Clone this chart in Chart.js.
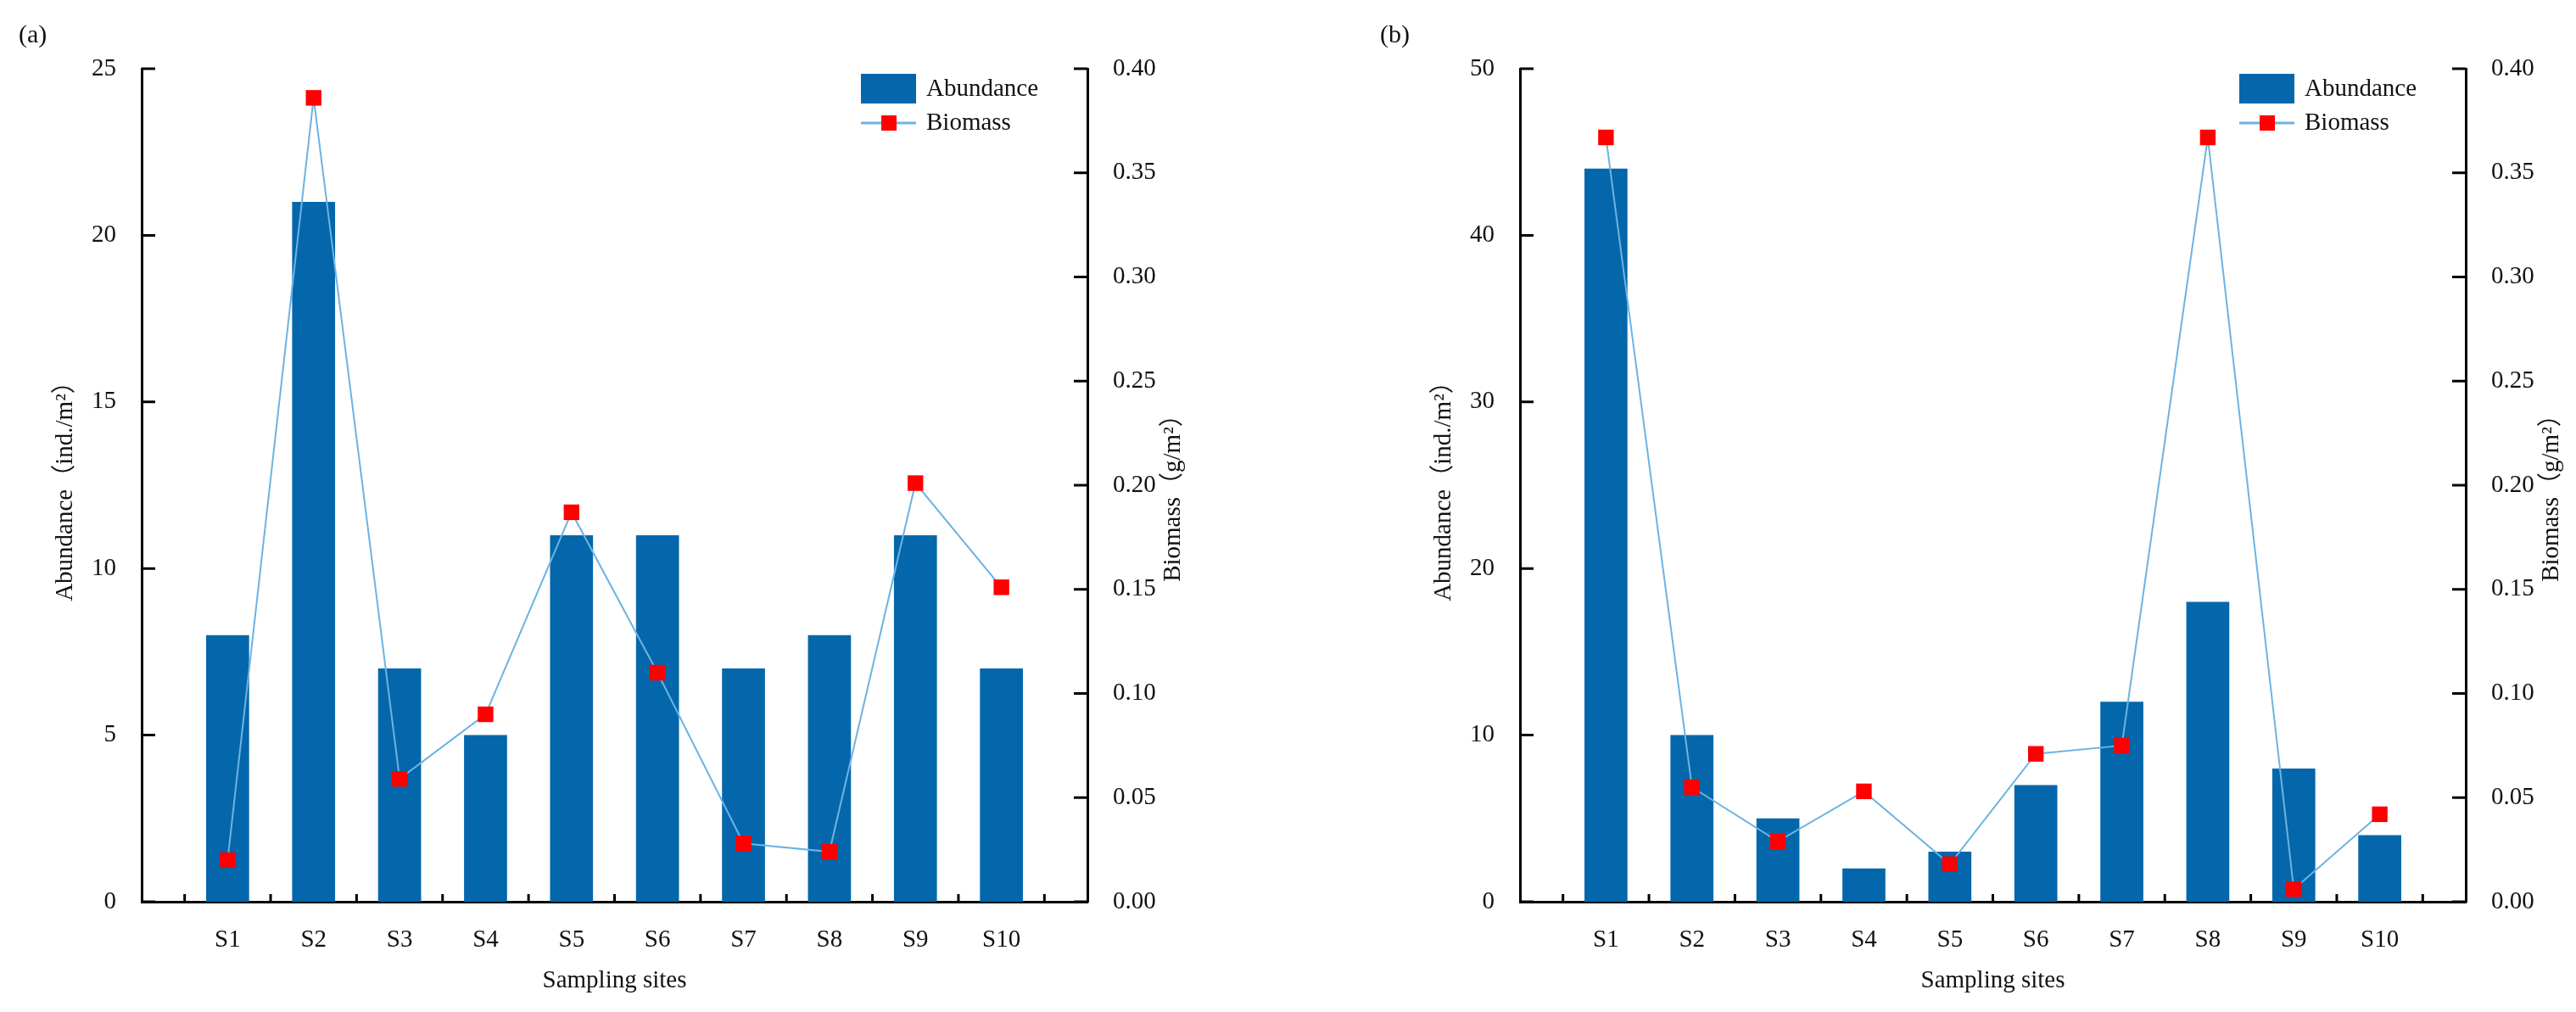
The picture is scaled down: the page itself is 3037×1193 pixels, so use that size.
<!DOCTYPE html>
<html>
<head>
<meta charset="utf-8">
<script src="https://cdn.jsdelivr.net/npm/chart.js@4.4.1/dist/chart.umd.min.js"></script>
<style>
  html, body { margin: 0; padding: 0; background: #fff; }
  .panel { position: absolute; top: 0; width: 1412px; height: 1193px; }
</style>
</head>
<body>
<div class="panel" style="left:0"><canvas id="chartA"></canvas></div>
<div class="panel" style="left:1625px"><canvas id="chartB"></canvas></div>
<script>
// sampling sites
const sites = ["S1", "S2", "S3", "S4", "S5", "S6", "S7", "S8", "S9", "S10"];

// panel (a)
const abundanceA = [8, 21, 7, 5, 11, 11, 7, 8, 11, 7];
const biomassA = [0.020, 0.386, 0.059, 0.090, 0.187, 0.110, 0.028, 0.024, 0.201, 0.151];

// panel (b)
const abundanceB = [44, 10, 5, 2, 3, 7, 12, 18, 8, 4];
const biomassB = [0.367, 0.055, 0.029, 0.053, 0.018, 0.071, 0.075, 0.367, 0.006, 0.042];

const FONT = "'Liberation Serif', 'Times New Roman', 'Noto Sans CJK SC', serif";
const BAR_COLOR = "#0467AB";
const LINE_COLOR = "#6DB3E2";
const MARK_COLOR = "#FF0000";

Chart.defaults.font.family = FONT;
Chart.defaults.font.size = 29;
Chart.defaults.color = "#111";

// inward ticks, right-hand title, legend and panel letter
const decor = {
  id: "decor",
  afterDraw(chart, args, opts) {
    const { ctx, chartArea: area, scales } = chart;
    ctx.save();
    ctx.strokeStyle = "#000";
    ctx.lineWidth = 3;
    ctx.beginPath();
    scales.y.ticks.forEach(t => {
      const py = scales.y.getPixelForValue(t.value);
      ctx.moveTo(area.left, py);
      ctx.lineTo(area.left + 16, py);
    });
    scales.y1.ticks.forEach(t => {
      const py = scales.y1.getPixelForValue(t.value);
      ctx.moveTo(area.right, py);
      ctx.lineTo(area.right - 16, py);
    });
    for (let i = 0; i < scales.x.ticks.length - 1; i++) {
      const px = (scales.x.getPixelForTick(i) + scales.x.getPixelForTick(i + 1)) / 2;
      ctx.moveTo(px, area.bottom);
      ctx.lineTo(px, area.bottom - 9);
    }
    ctx.stroke();

    ctx.fillStyle = "#111";
    ctx.font = "29px " + FONT;

    // right axis title, reading bottom to top
    ctx.save();
    ctx.translate(scales.y1.right - 29, (area.top + area.bottom) / 2 + 8);
    ctx.rotate(-Math.PI / 2);
    ctx.textAlign = "center";
    ctx.textBaseline = "middle";
    ctx.fillText(chart.options.scales.y1.title.text, 0, 0);
    ctx.restore();

    // legend
    const bars = chart.data.datasets[1];
    const line = chart.data.datasets[0];
    const lx = area.right - 267;
    const ly = area.top + 6;
    ctx.fillStyle = bars.backgroundColor;
    ctx.fillRect(lx, ly, 65, 35);
    ctx.strokeStyle = line.borderColor;
    ctx.lineWidth = 3;
    ctx.beginPath();
    ctx.moveTo(lx, ly + 58);
    ctx.lineTo(lx + 65, ly + 58);
    ctx.stroke();
    ctx.fillStyle = line.pointBackgroundColor;
    ctx.fillRect(lx + 24, ly + 49, 18, 18);
    ctx.fillStyle = "#111";
    ctx.textAlign = "left";
    ctx.textBaseline = "middle";
    ctx.fillText(bars.label, lx + 77, ly + 18);
    ctx.fillText(line.label, lx + 77, ly + 58);

    // panel letter
    ctx.font = "30px " + FONT;
    ctx.fillText(opts.letter, opts.letterX, 42);
    ctx.restore();
  }
};

function makeChart(id, letter, letterX, abundance, biomass, abMax, abStep) {
  const labels = ["", ...sites, ""];
  return new Chart(document.getElementById(id), {
    type: "bar",
    data: {
      labels: labels,
      datasets: [
        {
          type: "line",
          label: "Biomass",
          data: [null, ...biomass, null],
          yAxisID: "y1",
          borderColor: LINE_COLOR,
          borderWidth: 2,
          tension: 0,
          pointStyle: "rect",
          pointRadius: 13,
          pointBackgroundColor: MARK_COLOR,
          pointBorderWidth: 0,
          order: 0
        },
        {
          type: "bar",
          label: "Abundance",
          data: [null, ...abundance, null],
          yAxisID: "y",
          backgroundColor: BAR_COLOR,
          barPercentage: 0.5,
          categoryPercentage: 1,
          order: 1
        }
      ]
    },
    options: {
      responsive: true,
      maintainAspectRatio: false,
      devicePixelRatio: 1,
      animation: false,
      layout: { padding: { top: 81, left: 0, right: 0, bottom: 0 } },
      plugins: {
        legend: { display: false },
        tooltip: { enabled: false },
        decor: { letter: letter, letterX: letterX }
      },
      scales: {
        x: {
          offset: false,
          grid: { display: false },
          border: { display: true, color: "#000", width: 3 },
          ticks: { padding: 20, autoSkip: false, maxRotation: 0 },
          title: { display: true, text: "Sampling sites", padding: { top: 0, bottom: 19 } },
          afterFit: s => { s.height = 130; }
        },
        y: {
          position: "left",
          min: 0,
          max: abMax,
          grid: { display: false },
          border: { display: true, color: "#000", width: 3 },
          ticks: { stepSize: abStep, padding: 22 },
          title: { display: true, text: "Abundance（ind./m²）", padding: { top: 60, bottom: 0 } },
          afterFit: s => { s.width = 167; }
        },
        y1: {
          position: "right",
          min: 0,
          max: 0.4,
          grid: { display: false },
          border: { display: true, color: "#000", width: 3 },
          ticks: { stepSize: 0.05, padding: 22, callback: v => v.toFixed(2) },
          title: { display: false, text: "Biomass（g/m²）" },
          afterFit: s => { s.width = 130; }
        }
      }
    },
    plugins: [decor]
  });
}

makeChart("chartA", "(a)", 22, abundanceA, biomassA, 25, 5);
makeChart("chartB", "(b)", 2, abundanceB, biomassB, 50, 10);
</script>
</body>
</html>
